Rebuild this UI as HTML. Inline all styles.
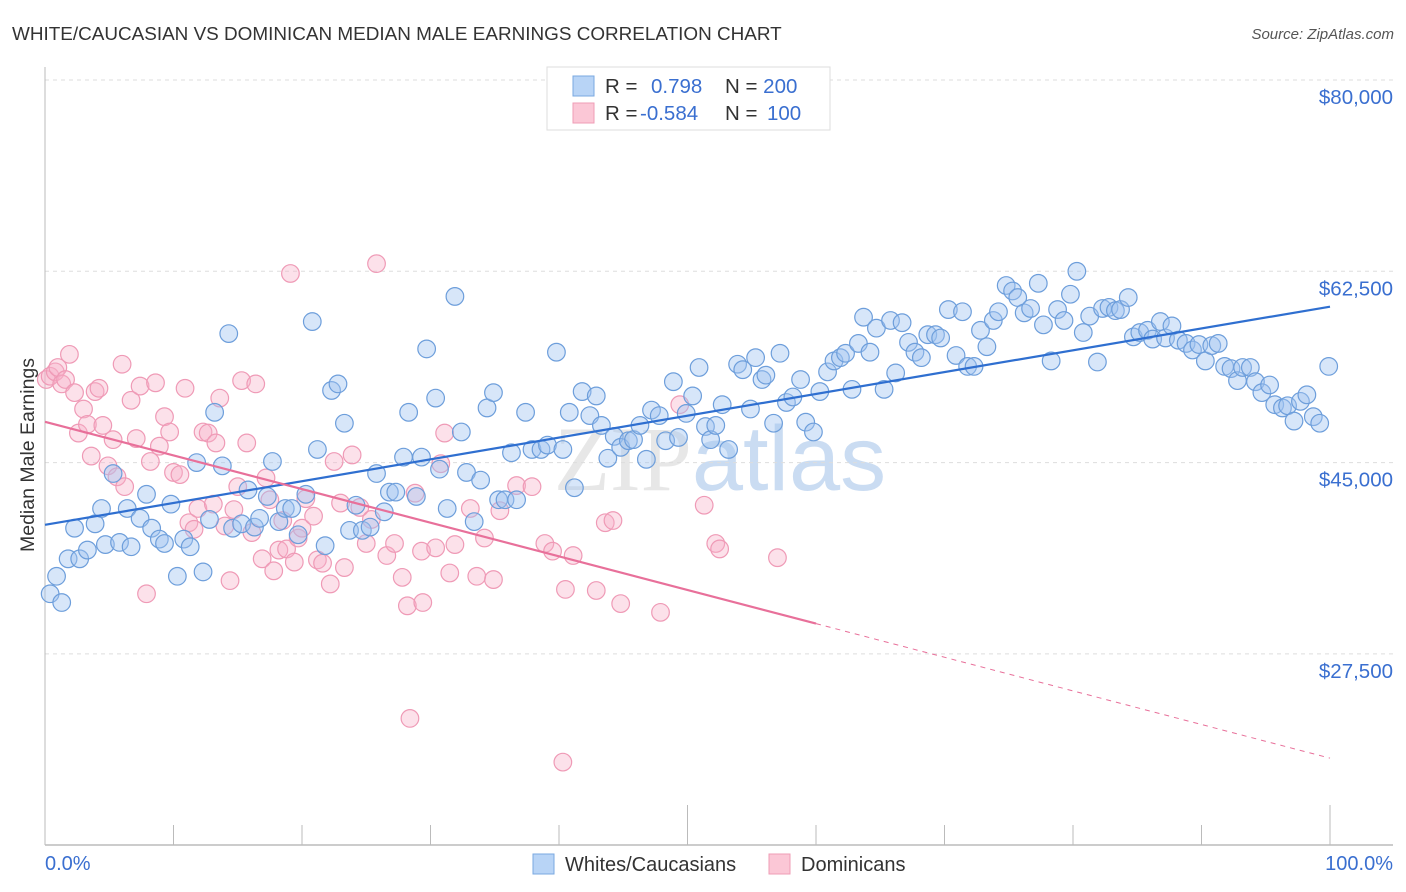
<!DOCTYPE html>
<html><head><meta charset="utf-8"><style>
body{margin:0;background:#fff;font-family:"Liberation Sans",sans-serif;}
svg{display:block}
</style></head><body>
<svg id="chart" width="1406" height="892" viewBox="0 0 1406 892">
<text x="12" y="40" font-size="18.9" fill="#333">WHITE/CAUCASIAN VS DOMINICAN MEDIAN MALE EARNINGS CORRELATION CHART</text>
<text x="1394" y="39" font-size="15" fill="#555" font-style="italic" text-anchor="end">Source: ZipAtlas.com</text>
<g><text x="720" y="490" font-size="92" text-anchor="middle" font-family="Liberation Serif,serif" fill="#d8d8d8" opacity="0.6">ZIP<tspan fill="#a8c6ea" font-family="Liberation Sans,sans-serif">atlas</tspan></text></g>
<g id="grid"></g><g id="axes"></g><g id="marks"></g><g id="lines"></g>
<text transform="translate(34,455) rotate(-90)" font-size="19.5" fill="#333" text-anchor="middle">Median Male Earnings</text>
<text x="45" y="870" font-size="20" fill="#3a6fd0">0.0%</text>
<text x="1393" y="870" font-size="20" fill="#3a6fd0" text-anchor="end">100.0%</text>
<g>
<rect x="547" y="67" width="283" height="63" fill="#fff" stroke="#ddd"/>
<rect x="573" y="76" width="21" height="20" fill="#b8d4f6" stroke="#7aa8e0"/>
<rect x="573" y="103" width="21" height="20" fill="#fbc7d6" stroke="#ef9cb6"/>
<text x="605" y="93" font-size="20.5" fill="#333">R = <tspan x="651" fill="#3a6fd0">0.798</tspan><tspan x="725" fill="#333">N = </tspan><tspan fill="#3a6fd0">200</tspan></text>
<text x="605" y="120" font-size="20.5" fill="#333">R = <tspan x="640" fill="#3a6fd0">-0.584</tspan><tspan x="725" fill="#333">N = </tspan><tspan x="767" fill="#3a6fd0">100</tspan></text>
</g>
<g>
<rect x="533" y="854" width="21" height="20" fill="#b8d4f6" stroke="#7aa8e0"/>
<text x="565" y="871" font-size="20" fill="#333">Whites/Caucasians</text>
<rect x="769" y="854" width="21" height="20" fill="#fbc7d6" stroke="#ef9cb6"/>
<text x="801" y="871" font-size="20" fill="#333">Dominicans</text>
</g>
</svg>
<script>
const yTicks=[80000,62500,45000,27500];
const yTickLabels=["$80,000","$62,500","$45,000","$27,500"];
const xTicks=[0,10,20,30,40,50,60,70,80,90,100];
const whiteX=[0.4,0.9,1.3,1.8,2.3,2.7,3.3,3.9,4.4,4.7,5.3,5.8,6.4,6.7,7.4,7.9,8.3,8.9,9.3,9.8,10.3,10.8,11.3,11.8,12.3,12.8,13.2,13.8,14.3,14.6,15.3,15.8,16.3,16.7,17.3,17.7,18.2,18.7,19.2,19.7,20.3,20.8,21.2,21.8,22.3,22.8,23.3,23.7,24.2,24.7,25.3,25.8,26.4,26.8,27.3,27.9,28.3,28.9,29.3,29.7,30.4,30.7,31.3,31.9,32.4,32.8,33.4,33.9,34.4,34.9,35.3,35.8,36.3,36.7,37.4,37.9,38.6,39.1,39.8,40.3,40.8,41.2,41.8,42.4,42.9,43.3,43.8,44.3,44.8,45.4,45.8,46.3,46.8,47.2,47.8,48.3,48.9,49.3,49.9,50.4,50.9,51.4,51.8,52.2,52.7,53.2,53.9,54.3,54.9,55.3,55.8,56.1,56.7,57.2,57.7,58.2,58.8,59.2,59.8,60.3,60.9,61.4,61.9,62.3,62.8,63.3,63.7,64.2,64.7,65.3,65.8,66.2,66.7,67.2,67.7,68.2,68.7,69.3,69.7,70.3,70.9,71.4,71.8,72.3,72.8,73.3,73.8,74.2,74.8,75.3,75.7,76.2,76.7,77.3,77.7,78.3,78.8,79.3,79.8,80.3,80.8,81.3,81.9,82.3,82.8,83.3,83.7,84.3,84.7,85.2,85.8,86.2,86.8,87.2,87.7,88.2,88.8,89.3,89.8,90.3,90.8,91.3,91.8,92.3,92.8,93.2,93.8,94.2,94.7,95.3,95.7,96.3,96.7,97.2,97.7,98.2,98.7,99.2,99.9];
const whiteY=[33.0,34.6,32.2,36.2,39.0,36.2,37.0,39.4,40.8,37.5,44.0,37.7,40.8,37.3,39.9,42.1,39.0,38.0,37.6,41.2,34.6,38.0,37.3,45.0,35.0,39.8,49.6,44.7,56.8,39.0,39.4,42.5,39.1,39.9,41.9,45.1,39.6,40.8,40.8,38.4,42.1,57.9,46.2,37.4,51.6,52.2,48.6,38.8,41.1,38.8,39.1,44.0,40.5,42.3,42.3,45.5,49.6,41.9,45.5,55.4,50.9,44.4,40.8,60.2,47.8,44.1,39.6,43.4,50.0,51.4,41.6,41.6,45.9,41.6,49.6,46.2,46.2,46.6,55.1,46.2,49.6,42.7,51.5,49.3,51.1,48.4,45.4,47.4,46.4,47.0,47.1,48.4,45.3,49.8,49.3,47.0,52.4,47.3,49.5,51.1,53.7,48.3,47.1,48.4,50.3,46.2,54.0,53.5,49.9,54.6,52.6,53.0,48.6,55.0,50.5,51.0,52.6,48.7,47.8,51.5,53.3,54.3,54.6,55.0,51.7,55.9,58.3,55.1,57.3,51.7,58.0,53.2,57.8,56.0,55.1,54.6,56.7,56.7,56.4,59.0,54.8,58.8,53.8,53.8,57.1,55.6,58.0,58.8,61.2,60.7,60.1,58.7,59.1,61.4,57.6,54.3,59.0,58.0,60.4,62.5,56.9,58.4,54.2,59.1,59.2,58.9,59.0,60.1,56.5,56.9,57.1,56.3,57.9,56.4,57.5,56.2,55.9,55.3,55.8,54.3,55.7,55.9,53.8,53.6,52.5,53.7,53.7,52.4,51.4,52.1,50.3,50.0,50.2,48.8,50.6,51.2,49.2,48.6,53.8];
const domX=[0.1,0.4,0.8,1.0,1.3,1.6,1.9,2.3,2.6,3.0,3.3,3.6,3.9,4.2,4.5,4.9,5.3,5.6,6.0,6.2,6.7,7.1,7.4,7.9,8.2,8.6,8.9,9.3,9.7,10.0,10.5,10.9,11.2,11.6,11.9,12.3,12.7,13.1,13.3,13.6,14.0,14.4,14.7,15.0,15.3,15.7,16.1,16.4,16.9,17.2,17.5,17.8,18.2,18.5,18.8,19.1,19.4,19.7,20.0,20.3,20.9,21.2,21.6,22.2,22.5,23.0,23.3,23.9,24.5,25.0,25.4,25.8,26.6,27.2,27.8,28.2,28.4,28.8,29.3,29.4,30.4,30.8,31.1,31.5,31.9,33.1,33.6,34.2,34.9,35.4,36.7,37.9,38.9,39.5,40.3,40.5,41.1,42.9,43.6,44.2,44.8,47.9,49.4,51.3,52.2,52.5,57.0];
const domY=[52.6,52.9,53.3,53.7,52.2,52.6,54.9,51.4,47.7,49.9,48.5,45.6,51.5,51.8,48.4,44.7,47.1,43.7,54.0,42.8,50.7,47.2,52.0,33.0,45.1,52.3,46.5,49.2,47.8,44.1,43.9,51.8,39.5,38.9,40.8,47.8,47.7,41.2,46.8,50.9,39.2,34.2,40.7,42.8,52.5,46.8,38.6,52.2,36.2,43.6,41.6,35.1,37.0,39.7,37.1,62.3,35.9,38.1,39.0,41.7,40.1,36.1,35.8,33.9,45.1,41.3,35.4,45.7,40.9,37.6,39.8,63.2,36.5,37.6,34.5,31.9,21.6,42.2,36.9,32.2,37.2,44.9,47.7,34.9,37.5,40.8,34.6,38.1,34.3,40.6,42.9,42.8,37.6,36.9,17.6,33.4,36.5,33.3,39.5,39.7,32.1,31.3,50.3,41.1,37.6,37.1,36.3];

const NS="http://www.w3.org/2000/svg";
const X0=45,X1=1330,YTOP=80,PXK=191.3/17.5;
function xs(p){return X0+(X1-X0)*p/100;}
function ys(k){return YTOP+(80-k)*PXK;}
function mk(tag,attrs,parent){const e=document.createElementNS(NS,tag);for(const k in attrs)e.setAttribute(k,attrs[k]);parent.appendChild(e);return e;}
const grid=document.getElementById('grid'),axes=document.getElementById('axes'),marks=document.getElementById('marks'),lines=document.getElementById('lines');
yTicks.forEach((v,i)=>{
  const y=ys(v/1000);
  const l=mk('line',{x1:45,x2:1393,y1:y,y2:y,stroke:'#ddd','stroke-dasharray':'4,4'},grid);
  
  
  const t=mk('text',{x:1393,y:y+24,'font-size':20.5,fill:'#3a6fd0','text-anchor':'end'},grid);
  t.textContent=yTickLabels[i];
  
  
});
const ya=mk('line',{x1:45,x2:45,y1:67,y2:845,stroke:'#bbb'},axes);


const xa=mk('line',{x1:45,x2:1393,y1:845,y2:845,stroke:'#bbb','stroke-width':1.5},axes);


xTicks.forEach(p=>{
  const tall=(p===50||p===100);
  const t=mk('line',{x1:xs(p),x2:xs(p),y1:tall?805:825,y2:845,stroke:'#bbb'},axes);
  
  
});
function dots(X,Y,fill,stroke,name){
  X.forEach((x,i)=>{
    const c=mk('circle',{cx:xs(x),cy:ys(Y[i]),r:8.8,fill:fill,stroke:stroke,'stroke-width':1.2},marks);
    
    
  });
}
dots(domX,domY,'rgba(246,176,200,0.38)','#ef9ab6','dominican-point');
dots(whiteX,whiteY,'rgba(160,196,240,0.42)','#6d9edb','white-point');
function fit(X,Y){const n=X.length;let sx=0,sy=0,sxx=0,sxy=0;for(let i=0;i<n;i++){sx+=X[i];sy+=Y[i];sxx+=X[i]*X[i];sxy+=X[i]*Y[i];}const b=(n*sxy-sx*sy)/(n*sxx-sx*sx);return {a:(sy-b*sx)/n,b:b};}
const fw=fit(whiteX,whiteY);
const wl=mk('line',{x1:xs(0),y1:ys(fw.a),x2:xs(100),y2:ys(fw.a+fw.b*100),stroke:'#2f6fd0','stroke-width':2.2},lines);


const fd=fit(domX,domY);
const xe=Math.min(100,Math.max(...domX)+3);
const dl=mk('line',{x1:xs(0),y1:ys(fd.a),x2:xs(xe),y2:ys(fd.a+fd.b*xe),stroke:'#e8709a','stroke-width':2.2},lines);


const dd=mk('line',{x1:xs(xe),y1:ys(fd.a+fd.b*xe),x2:xs(100),y2:ys(fd.a+fd.b*100),stroke:'#e8709a','stroke-width':1,'stroke-dasharray':'5,5'},lines);


</script>
</body></html>
